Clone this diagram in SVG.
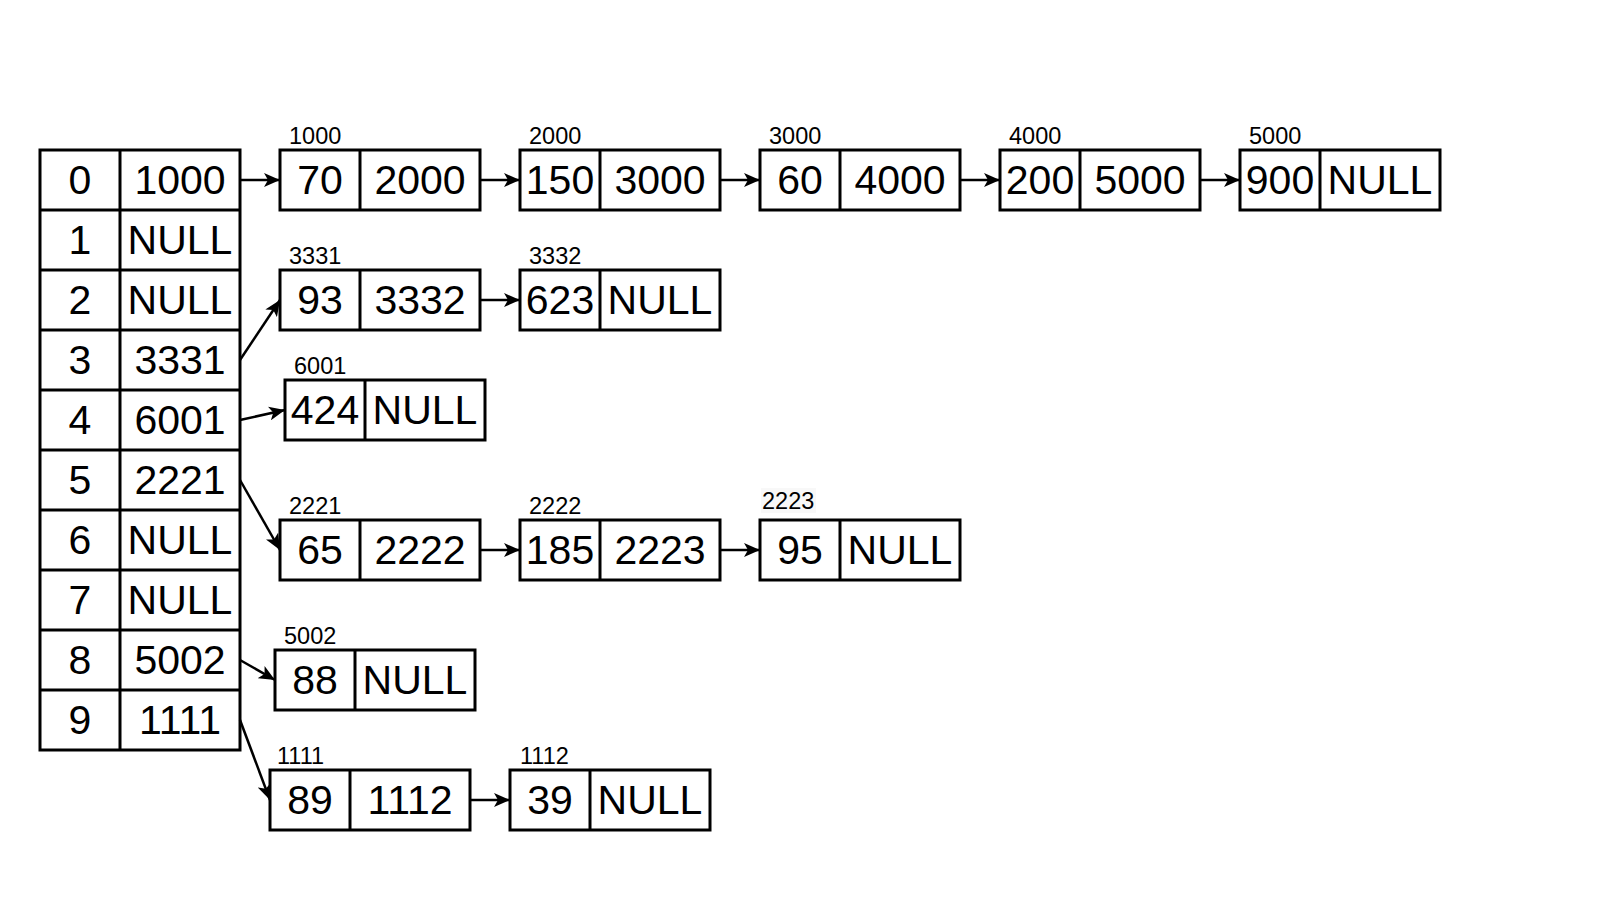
<svg xmlns="http://www.w3.org/2000/svg" width="1600" height="900" viewBox="0 0 1600 900">
<style>
  .box { fill: #ffffff; stroke: #000000; stroke-width: 3; }
  .div { stroke: #000000; stroke-width: 3; }
  .big { font-family: "Liberation Sans", Arial, sans-serif; font-size: 41px; fill: #000000; text-anchor: middle; }
  .lbl { font-family: "Liberation Sans", Arial, sans-serif; font-size: 23.5px; fill: #000000; }
  .edge { stroke: #000000; stroke-width: 2.5; fill: none; marker-end: url(#arr); }
</style>
<defs>
  <marker id="arr" markerUnits="userSpaceOnUse" markerWidth="17" markerHeight="14" refX="16" refY="7" orient="auto">
    <path d="M0,0 L16,7 L0,14 L4,7 Z" fill="#000000"/>
  </marker>
</defs>
<rect width="1600" height="900" fill="#ffffff"/>

<g id="table">
  <rect class="box" x="40" y="150" width="200" height="600"/>
  <line class="div" x1="120" y1="150" x2="120" y2="750"/>
  <line class="div" x1="40" y1="210" x2="240" y2="210"/>
  <line class="div" x1="40" y1="270" x2="240" y2="270"/>
  <line class="div" x1="40" y1="330" x2="240" y2="330"/>
  <line class="div" x1="40" y1="390" x2="240" y2="390"/>
  <line class="div" x1="40" y1="450" x2="240" y2="450"/>
  <line class="div" x1="40" y1="510" x2="240" y2="510"/>
  <line class="div" x1="40" y1="570" x2="240" y2="570"/>
  <line class="div" x1="40" y1="630" x2="240" y2="630"/>
  <line class="div" x1="40" y1="690" x2="240" y2="690"/>
  <text class="big" x="80" y="194">0</text><text class="big" x="180" y="194">1000</text>
  <text class="big" x="80" y="254">1</text><text class="big" x="180" y="254">NULL</text>
  <text class="big" x="80" y="314">2</text><text class="big" x="180" y="314">NULL</text>
  <text class="big" x="80" y="374">3</text><text class="big" x="180" y="374">3331</text>
  <text class="big" x="80" y="434">4</text><text class="big" x="180" y="434">6001</text>
  <text class="big" x="80" y="494">5</text><text class="big" x="180" y="494">2221</text>
  <text class="big" x="80" y="554">6</text><text class="big" x="180" y="554">NULL</text>
  <text class="big" x="80" y="614">7</text><text class="big" x="180" y="614">NULL</text>
  <text class="big" x="80" y="674">8</text><text class="big" x="180" y="674">5002</text>
  <text class="big" x="80" y="734">9</text><text class="big" x="180" y="734">1111</text>
</g>

<g id="n1000">
  <text class="lbl" x="289" y="144">1000</text>
  <rect class="box" x="280" y="150" width="200" height="60"/>
  <line class="div" x1="360" y1="150" x2="360" y2="210"/>
  <text class="big" x="320" y="194">70</text><text class="big" x="420" y="194">2000</text>
</g>
<g id="n2000">
  <text class="lbl" x="529" y="144">2000</text>
  <rect class="box" x="520" y="150" width="200" height="60"/>
  <line class="div" x1="600" y1="150" x2="600" y2="210"/>
  <text class="big" x="560" y="194">150</text><text class="big" x="660" y="194">3000</text>
</g>
<g id="n3000">
  <text class="lbl" x="769" y="144">3000</text>
  <rect class="box" x="760" y="150" width="200" height="60"/>
  <line class="div" x1="840" y1="150" x2="840" y2="210"/>
  <text class="big" x="800" y="194">60</text><text class="big" x="900" y="194">4000</text>
</g>
<g id="n4000">
  <text class="lbl" x="1009" y="144">4000</text>
  <rect class="box" x="1000" y="150" width="200" height="60"/>
  <line class="div" x1="1080" y1="150" x2="1080" y2="210"/>
  <text class="big" x="1040" y="194">200</text><text class="big" x="1140" y="194">5000</text>
</g>
<g id="n5000">
  <text class="lbl" x="1249" y="144">5000</text>
  <rect class="box" x="1240" y="150" width="200" height="60"/>
  <line class="div" x1="1320" y1="150" x2="1320" y2="210"/>
  <text class="big" x="1280" y="194">900</text><text class="big" x="1380" y="194">NULL</text>
</g>

<g id="n3331">
  <text class="lbl" x="289" y="264">3331</text>
  <rect class="box" x="280" y="270" width="200" height="60"/>
  <line class="div" x1="360" y1="270" x2="360" y2="330"/>
  <text class="big" x="320" y="314">93</text><text class="big" x="420" y="314">3332</text>
</g>
<g id="n3332">
  <text class="lbl" x="529" y="264">3332</text>
  <rect class="box" x="520" y="270" width="200" height="60"/>
  <line class="div" x1="600" y1="270" x2="600" y2="330"/>
  <text class="big" x="560" y="314">623</text><text class="big" x="660" y="314">NULL</text>
</g>

<g id="n6001">
  <text class="lbl" x="294" y="374">6001</text>
  <rect class="box" x="285" y="380" width="200" height="60"/>
  <line class="div" x1="365" y1="380" x2="365" y2="440"/>
  <text class="big" x="325" y="424">424</text><text class="big" x="425" y="424">NULL</text>
</g>

<g id="n2221">
  <text class="lbl" x="289" y="514">2221</text>
  <rect class="box" x="280" y="520" width="200" height="60"/>
  <line class="div" x1="360" y1="520" x2="360" y2="580"/>
  <text class="big" x="320" y="564">65</text><text class="big" x="420" y="564">2222</text>
</g>
<g id="n2222">
  <text class="lbl" x="529" y="514">2222</text>
  <rect class="box" x="520" y="520" width="200" height="60"/>
  <line class="div" x1="600" y1="520" x2="600" y2="580"/>
  <text class="big" x="560" y="564">185</text><text class="big" x="660" y="564">2223</text>
</g>
<g id="n2223">
  <rect x="761" y="488" width="55" height="25" fill="#f8f8f8"/>
  <text class="lbl" x="762" y="509">2223</text>
  <rect class="box" x="760" y="520" width="200" height="60"/>
  <line class="div" x1="840" y1="520" x2="840" y2="580"/>
  <text class="big" x="800" y="564">95</text><text class="big" x="900" y="564">NULL</text>
</g>

<g id="n5002">
  <text class="lbl" x="284" y="644">5002</text>
  <rect class="box" x="275" y="650" width="200" height="60"/>
  <line class="div" x1="355" y1="650" x2="355" y2="710"/>
  <text class="big" x="315" y="694">88</text><text class="big" x="415" y="694">NULL</text>
</g>

<g id="n1111">
  <text class="lbl" x="277" y="764">1111</text>
  <rect class="box" x="270" y="770" width="200" height="60"/>
  <line class="div" x1="350" y1="770" x2="350" y2="830"/>
  <text class="big" x="310" y="814">89</text><text class="big" x="410" y="814">1112</text>
</g>
<g id="n1112">
  <text class="lbl" x="520" y="764">1112</text>
  <rect class="box" x="510" y="770" width="200" height="60"/>
  <line class="div" x1="590" y1="770" x2="590" y2="830"/>
  <text class="big" x="550" y="814">39</text><text class="big" x="650" y="814">NULL</text>
</g>

<g id="connectors">
  <line class="edge" x1="240" y1="180" x2="280" y2="180"/>
  <line class="edge" x1="480" y1="180" x2="520" y2="180"/>
  <line class="edge" x1="720" y1="180" x2="760" y2="180"/>
  <line class="edge" x1="960" y1="180" x2="1000" y2="180"/>
  <line class="edge" x1="1200" y1="180" x2="1240" y2="180"/>
  <line class="edge" x1="240" y1="360" x2="280" y2="300"/>
  <line class="edge" x1="480" y1="300" x2="520" y2="300"/>
  <line class="edge" x1="240" y1="420" x2="285" y2="410"/>
  <line class="edge" x1="240" y1="480" x2="280" y2="550"/>
  <line class="edge" x1="480" y1="550" x2="520" y2="550"/>
  <line class="edge" x1="720" y1="550" x2="760" y2="550"/>
  <line class="edge" x1="240" y1="660" x2="275" y2="680"/>
  <line class="edge" x1="240" y1="720" x2="270" y2="800"/>
  <line class="edge" x1="470" y1="800" x2="510" y2="800"/>
</g>
</svg>
